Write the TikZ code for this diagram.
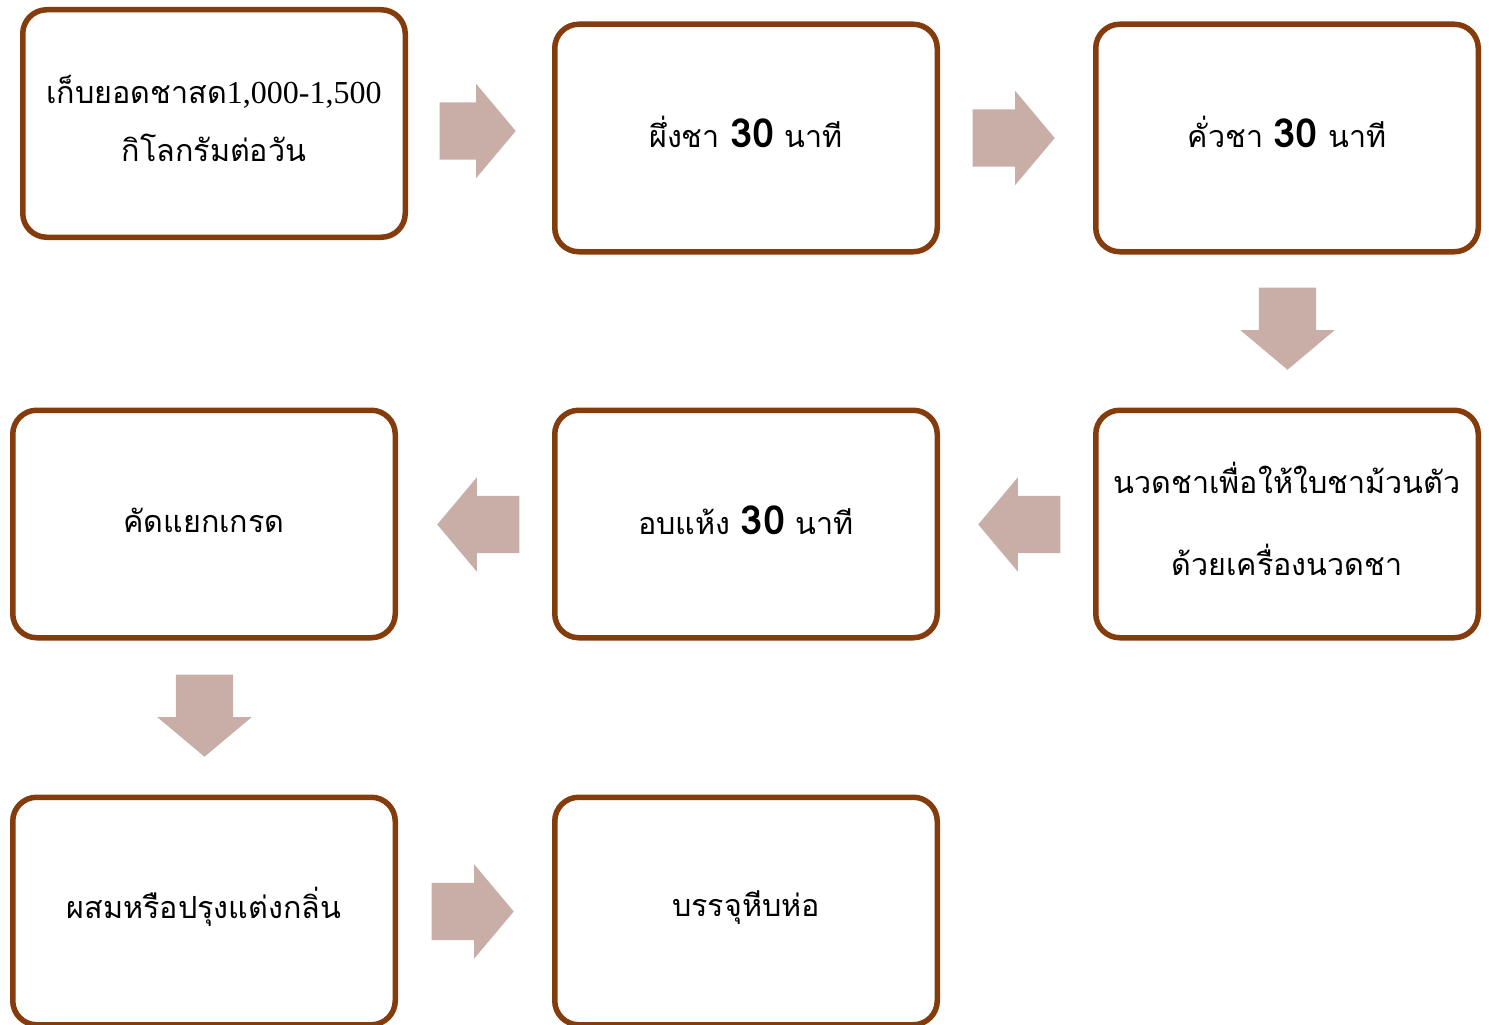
\documentclass[tikz,border=0pt]{standalone}
\usepackage{fontspec}
\setmainfont{Liberation Serif}
\newfontfamily\thai[Script=Thai]{Loma}
\newfontfamily\thaiserif{Liberation Serif}
\usetikzlibrary{shapes.arrows}
\definecolor{boxline}{RGB}{132,60,12}
\definecolor{arrowfill}{RGB}{201,174,168}
\tikzset{
  stepbox/.style={draw=boxline, line width=5.5pt, rounded corners=24pt, fill=white,
    minimum width=382.5pt, minimum height=227.5pt, inner sep=0pt},
  steptext/.style={align=center, inner sep=0pt,
    font=\thai\fontsize{30.5}{40}\selectfont},
  blockarrow/.style={single arrow, fill=arrowfill, draw=none, inner xsep=0pt, inner ysep=28.5pt,
    minimum width=94pt, single arrow head extend=18.5pt, single arrow tip angle=100, anchor=tip}
}
\newcommand{\bnum}[1]{{\fontsize{40}{40}\selectfont\bfseries #1}}
\begin{document}
\begin{tikzpicture}[x=1pt,y=-1pt]
\useasboundingbox (0,0) rectangle (1489,1025);
\clip (0,0) rectangle (1489,1025);
\node[stepbox] (b1) at (214,123.5) {};
\node[stepbox] (b2) at (746,138) {};
\node[stepbox] (b3) at (1287,138) {};
\node[stepbox] (b4) at (1287,524) {};
\node[stepbox] (b5) at (746,524) {};
\node[stepbox] (b6) at (204,524) {};
\node[stepbox] (b7) at (204,911) {};
\node[stepbox] (b8) at (746,911) {};
\node[steptext] (t1) at ([yshift=5pt]b1.center) {{\thai เก็บยอดชาสด}{\thaiserif\fontsize{32}{40}\selectfont 1,000-1,500}\\[18pt]กิโลกรัมต่อวัน};
\node[steptext] (t2) at ([yshift=6pt]b2.center) {ผึ่งชา \bnum{30} นาที};
\node[steptext] (t3) at ([yshift=6pt]b3.center) {คั่วชา \bnum{30} นาที};
\node[steptext] (t4) at ([yshift=5pt]b4.center) {นวดชาเพื่อให้ใบชาม้วนตัว\\[42pt]ด้วยเครื่องนวดชา};
\node[steptext] (t5) at ([yshift=4pt]b5.center) {อบแห้ง \bnum{30} นาที};
\node[steptext] (t6) at ([yshift=4pt]b6.center) {คัดแยกเกรด};
\node[steptext] (t7) at ([yshift=4pt]b7.center) {ผสมหรือปรุงแต่งกลิ่น};
\node[steptext] (t8) at ([yshift=3pt]b8.center) {บรรจุหีบห่อ};
\node[blockarrow, minimum height=76pt] (a1) at (516,131) {};
\node[blockarrow, minimum height=82pt] (a2) at (1055,138) {};
\node[blockarrow, minimum height=82pt, rotate=-90] (a3) at (1287.5,370) {};
\node[blockarrow, minimum height=82pt, rotate=180] (a4) at (978,524.5) {};
\node[blockarrow, minimum height=82pt, rotate=180] (a5) at (437,524.5) {};
\node[blockarrow, minimum height=82pt, rotate=-90] (a6) at (204.5,757) {};
\node[blockarrow, minimum height=82pt] (a7) at (514,911.5) {};
\end{tikzpicture}
\end{document}
